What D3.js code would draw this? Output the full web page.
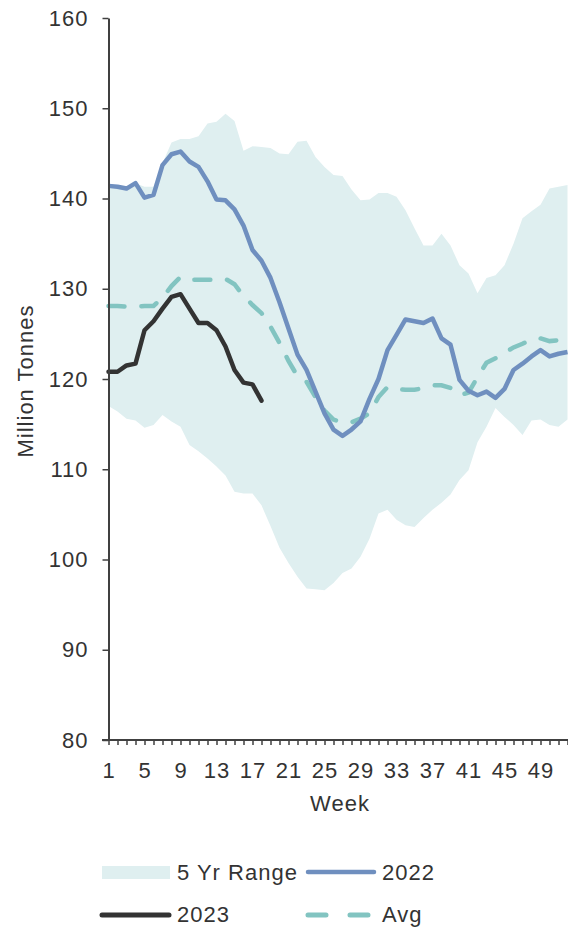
<!DOCTYPE html>
<html>
<head>
<meta charset="utf-8">
<script src="https://cdn.jsdelivr.net/npm/d3@7"></script>
<style>
  body { margin: 0; background: #fff; }
  text { font-family: Arial, "Liberation Sans", sans-serif; fill: #333; }
</style>
</head>
<body>
<div id="chart"></div>
<script>
// weekly data, million tonnes
var weeks = d3.range(1, 53);
var rangeUpper = [141.4, 141.3, 141.1, 141.7, 141.3, 141.3, 143.9, 146.2, 146.6, 146.6,
    146.9, 148.3, 148.5, 149.4, 148.6, 145.3, 145.8, 145.7, 145.6, 145.0,
    144.9, 146.3, 146.4, 144.6, 143.5, 142.6, 142.5, 141.0, 139.8, 139.9,
    140.6, 140.6, 140.2, 138.7, 136.7, 134.8, 134.8, 136.1, 134.8, 132.6,
    131.7, 129.5, 131.2, 131.5, 132.6, 135.0, 137.8, 138.6, 139.3, 141.1,
    141.3, 141.5];
var rangeLower = [117.0, 116.4, 115.6, 115.4, 114.6, 114.9, 116.0, 115.3, 114.7, 112.7,
    112.0, 111.2, 110.3, 109.3, 107.5, 107.3, 107.3, 106.0, 103.7, 101.3,
    99.6, 98.1, 96.8, 96.7, 96.6, 97.4, 98.5, 99.0, 100.3, 102.3,
    105.1, 105.5, 104.4, 103.8, 103.6, 104.6, 105.5, 106.3, 107.2, 108.8,
    109.9, 113.0, 114.7, 116.8, 115.8, 114.9, 113.8, 115.4, 115.5, 114.9,
    114.7, 115.5];
var values2022 = [141.4, 141.3, 141.1, 141.7, 140.1, 140.4, 143.7, 144.9, 145.2, 144.1,
    143.5, 141.9, 139.9, 139.8, 138.8, 137.0, 134.3, 133.1, 131.2, 128.5,
    125.6, 122.7, 121.0, 118.6, 116.2, 114.4, 113.7, 114.4, 115.3, 117.8,
    120.0, 123.2, 124.9, 126.6, 126.4, 126.2, 126.7, 124.5, 123.8, 119.9,
    118.7, 118.2, 118.6, 117.9, 118.9, 121.0, 121.7, 122.5, 123.2, 122.5,
    122.8, 123.0];
var values2023 = [120.8, 120.8, 121.5, 121.7, 125.4, 126.4, 127.8, 129.1, 129.4, 127.8,
    126.2, 126.2, 125.4, 123.6, 121.0, 119.6, 119.4, 117.6];
var valuesAvg = [128.1, 128.1, 128.0, 128.0, 128.1, 128.1, 129.0, 130.3, 131.3, 131.0,
    131.0, 131.0, 131.0, 131.1, 130.5, 129.2, 128.2, 127.3, 125.8, 124.0,
    122.0, 120.3, 119.7, 118.0, 116.5, 115.5, 115.2, 115.2, 115.6, 116.2,
    118.0, 119.1, 118.9, 118.8, 118.8, 119.0, 119.3, 119.3, 119.0, 118.2,
    118.5, 120.2, 121.8, 122.3, 122.9, 123.5, 123.9, 124.4, 124.5, 124.2,
    124.3, 125.0];
var yTicks = [80, 90, 100, 110, 120, 130, 140, 150, 160];
var xTickLabels = [1, 5, 9, 13, 17, 21, 25, 29, 33, 37, 41, 45, 49];

var width = 568, height = 930;
var svg = d3.select("#chart").append("svg")
    .attr("width", width)
    .attr("height", height);

var x = d3.scaleLinear().domain([1, 52]).range([108.5, 567.5]);
var y = d3.scaleLinear().domain([80, 160]).range([740, 18]);

var colors = {band: "#dfeff0", y2022: "#6f8fbf", y2023: "#333333", avg: "#82c4c1"};

// 5 yr range band
var area = d3.area()
    .x(function (d, i) { return x(weeks[i]); })
    .y0(function (d, i) { return y(rangeLower[i]); })
    .y1(function (d, i) { return y(rangeUpper[i]); });
svg.append("path")
    .datum(weeks)
    .attr("d", area)
    .attr("fill", colors.band);

var line = function (vals) {
    return d3.line()
        .x(function (d, i) { return x(weeks[i]); })
        .y(function (d) { return y(d); })(vals);
};

svg.append("path")
    .attr("d", line(valuesAvg))
    .attr("fill", "none")
    .attr("stroke", colors.avg)
    .attr("stroke-width", 4.5)
    .attr("stroke-linecap", "round")
    .attr("stroke-dasharray", "16,17");

svg.append("path")
    .attr("d", line(values2022))
    .attr("fill", "none")
    .attr("stroke", colors.y2022)
    .attr("stroke-width", 4.5)
    .attr("stroke-linejoin", "round");

svg.append("path")
    .attr("d", line(values2023))
    .attr("fill", "none")
    .attr("stroke", colors.y2023)
    .attr("stroke-width", 4.5)
    .attr("stroke-linejoin", "round")
    .attr("stroke-linecap", "round");

// axes
var yAxis = svg.append("g")
    .attr("transform", "translate(108.5,0)")
    .call(d3.axisLeft(y).tickValues(yTicks).tickSize(6).tickPadding(14).tickSizeOuter(0));

var xAxis = svg.append("g")
    .attr("transform", "translate(0,740)")
    .call(d3.axisBottom(x).tickValues(weeks).tickSize(5).tickPadding(17).tickSizeOuter(0)
        .tickFormat(function (d) { return xTickLabels.indexOf(d) >= 0 ? d : ""; }));

[yAxis, xAxis].forEach(function (g) {
    g.select(".domain").attr("stroke", "#404040").attr("stroke-width", 2);
    g.selectAll(".tick line").attr("stroke", "#404040").attr("stroke-width", 1.5);
    g.selectAll(".tick text")
        .style("font-size", "22px")
        .style("letter-spacing", "1px")
        .attr("fill", "#333");
});
xAxis.select(".domain").attr("d", "M102,0H568");

svg.append("text")
    .attr("transform", "translate(33,381) rotate(-90)")
    .attr("text-anchor", "middle")
    .style("font-size", "22px")
    .style("letter-spacing", "1px")
    .text("Million Tonnes");

svg.append("text")
    .attr("x", 340)
    .attr("y", 811)
    .attr("text-anchor", "middle")
    .style("font-size", "22px")
    .style("letter-spacing", "1px")
    .text("Week");

// legend
var legend = svg.append("g");
legend.append("rect")
    .attr("x", 102).attr("y", 866).attr("width", 68).attr("height", 13)
    .attr("fill", colors.band);
legend.append("line")
    .attr("x1", 308).attr("x2", 374).attr("y1", 872).attr("y2", 872)
    .attr("stroke", colors.y2022).attr("stroke-width", 4.5).attr("stroke-linecap", "round");
legend.append("line")
    .attr("x1", 102).attr("x2", 169).attr("y1", 915).attr("y2", 915)
    .attr("stroke", colors.y2023).attr("stroke-width", 5).attr("stroke-linecap", "round");
legend.append("line")
    .attr("x1", 308).attr("x2", 369).attr("y1", 915).attr("y2", 915)
    .attr("stroke", colors.avg).attr("stroke-width", 5).attr("stroke-linecap", "round")
    .attr("stroke-dasharray", "18,24");

var legendItems = [
    {label: "5 Yr Range", x: 177, y: 872},
    {label: "2022", x: 382, y: 872},
    {label: "2023", x: 177, y: 914},
    {label: "Avg", x: 382, y: 914}
];
legend.selectAll("text.leg")
    .data(legendItems)
    .enter()
    .append("text")
    .attr("class", "leg")
    .attr("x", function (d) { return d.x; })
    .attr("y", function (d) { return d.y; })
    .attr("dy", "0.35em")
    .style("font-size", "22px")
    .style("letter-spacing", "1px")
    .text(function (d) { return d.label; });
</script>
</body>
</html>
